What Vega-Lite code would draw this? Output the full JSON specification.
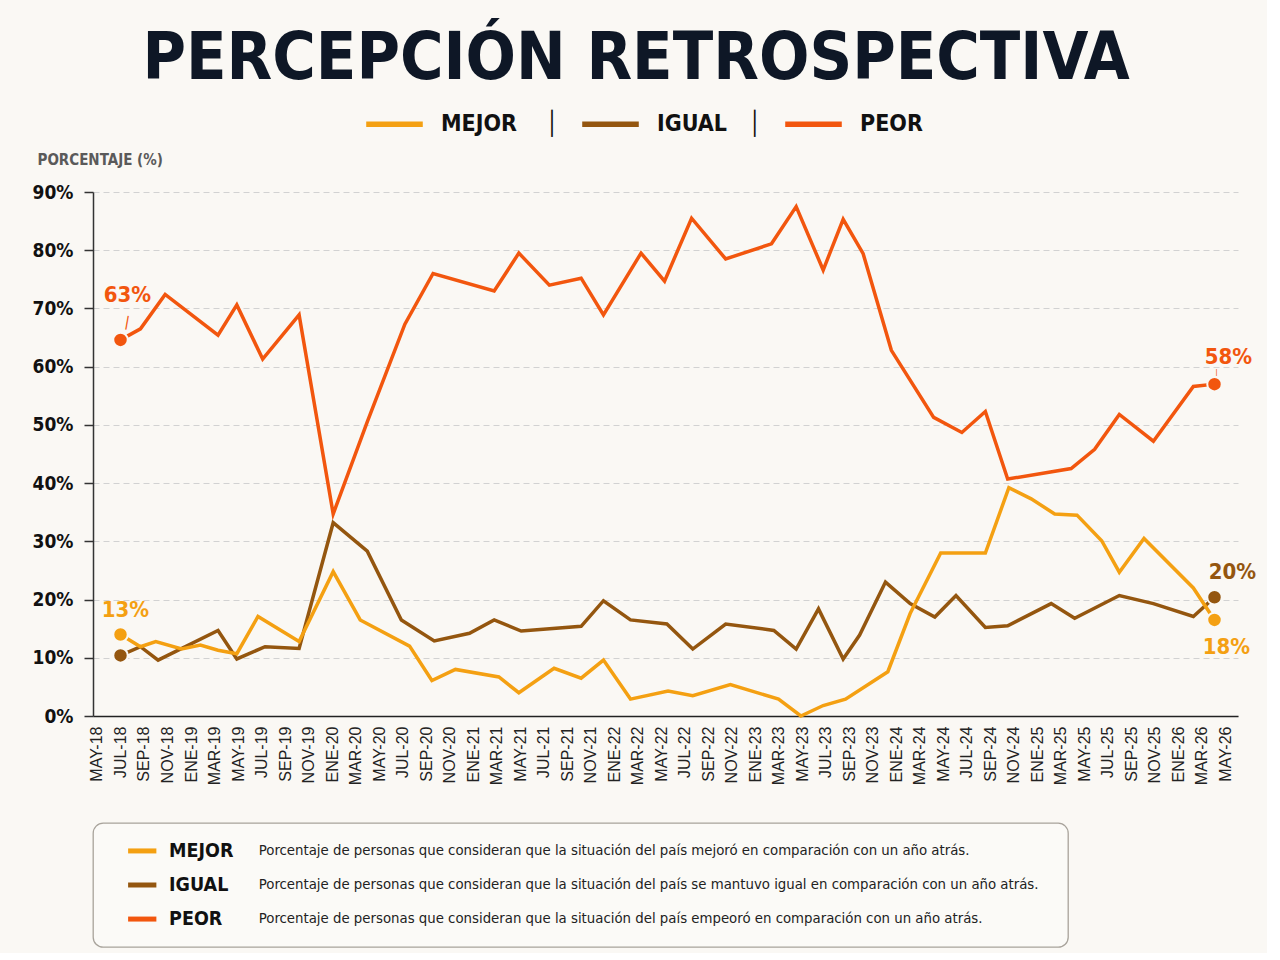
{
  "$schema": "https://vega.github.io/schema/vega-lite/v6.json",
  "background": "#FAF8F4",
  "padding": {"left": 32, "top": 25, "right": 10, "bottom": 5},
  "title": {
    "text": "PERCEPCIÓN RETROSPECTIVA",
    "font": "'DejaVu Sans Condensed', 'DejaVu Sans', sans-serif",
    "fontSize": 66,
    "fontWeight": "bold",
    "color": "#0E1726",
    "anchor": "middle",
    "dx": -8,
    "offset": 0
  },
  "bounds": "flush",
  "spacing": 107,
  "resolve": {"legend": {"color": "independent"}},
  "config": {
    "view": {"stroke": null},
    "font": "'DejaVu Sans Condensed', 'DejaVu Sans', sans-serif"
  },
  "datasets": {
    "series": [
      {"serie": "PEOR", "mes": 2.0, "valor": 64.6},
      {"serie": "PEOR", "mes": 3.7, "valor": 66.5},
      {"serie": "PEOR", "mes": 5.8, "valor": 72.4},
      {"serie": "PEOR", "mes": 10.3, "valor": 65.4},
      {"serie": "PEOR", "mes": 11.9, "valor": 70.6},
      {"serie": "PEOR", "mes": 14.1, "valor": 61.3},
      {"serie": "PEOR", "mes": 17.2, "valor": 68.9},
      {"serie": "PEOR", "mes": 20.1, "valor": 34.7},
      {"serie": "PEOR", "mes": 23.0, "valor": 50.5},
      {"serie": "PEOR", "mes": 26.2, "valor": 67.3},
      {"serie": "PEOR", "mes": 28.6, "valor": 76.0},
      {"serie": "PEOR", "mes": 33.8, "valor": 73.0},
      {"serie": "PEOR", "mes": 35.9, "valor": 79.5},
      {"serie": "PEOR", "mes": 38.5, "valor": 74.0},
      {"serie": "PEOR", "mes": 41.2, "valor": 75.2},
      {"serie": "PEOR", "mes": 43.1, "valor": 68.9},
      {"serie": "PEOR", "mes": 46.3, "valor": 79.5},
      {"serie": "PEOR", "mes": 48.3, "valor": 74.7},
      {"serie": "PEOR", "mes": 50.6, "valor": 85.5},
      {"serie": "PEOR", "mes": 53.5, "valor": 78.5},
      {"serie": "PEOR", "mes": 57.4, "valor": 81.1},
      {"serie": "PEOR", "mes": 59.5, "valor": 87.5},
      {"serie": "PEOR", "mes": 61.8, "valor": 76.6},
      {"serie": "PEOR", "mes": 63.5, "valor": 85.3},
      {"serie": "PEOR", "mes": 65.2, "valor": 79.4},
      {"serie": "PEOR", "mes": 67.6, "valor": 62.8},
      {"serie": "PEOR", "mes": 71.2, "valor": 51.3},
      {"serie": "PEOR", "mes": 73.6, "valor": 48.7},
      {"serie": "PEOR", "mes": 75.6, "valor": 52.3},
      {"serie": "PEOR", "mes": 77.5, "valor": 40.7},
      {"serie": "PEOR", "mes": 82.9, "valor": 42.5},
      {"serie": "PEOR", "mes": 84.9, "valor": 45.8},
      {"serie": "PEOR", "mes": 87.0, "valor": 51.8},
      {"serie": "PEOR", "mes": 89.9, "valor": 47.2},
      {"serie": "PEOR", "mes": 93.3, "valor": 56.6},
      {"serie": "PEOR", "mes": 95.1, "valor": 57.0},
      {"serie": "IGUAL", "mes": 2.0, "valor": 10.4},
      {"serie": "IGUAL", "mes": 3.7, "valor": 11.9},
      {"serie": "IGUAL", "mes": 5.2, "valor": 9.6},
      {"serie": "IGUAL", "mes": 10.3, "valor": 14.7},
      {"serie": "IGUAL", "mes": 11.9, "valor": 9.8},
      {"serie": "IGUAL", "mes": 14.3, "valor": 11.9},
      {"serie": "IGUAL", "mes": 17.2, "valor": 11.6},
      {"serie": "IGUAL", "mes": 20.1, "valor": 33.2},
      {"serie": "IGUAL", "mes": 23.0, "valor": 28.3},
      {"serie": "IGUAL", "mes": 25.9, "valor": 16.5},
      {"serie": "IGUAL", "mes": 28.7, "valor": 12.9},
      {"serie": "IGUAL", "mes": 31.7, "valor": 14.2},
      {"serie": "IGUAL", "mes": 33.8, "valor": 16.5},
      {"serie": "IGUAL", "mes": 36.1, "valor": 14.6},
      {"serie": "IGUAL", "mes": 41.2, "valor": 15.4},
      {"serie": "IGUAL", "mes": 43.1, "valor": 19.8},
      {"serie": "IGUAL", "mes": 45.4, "valor": 16.5},
      {"serie": "IGUAL", "mes": 48.5, "valor": 15.8},
      {"serie": "IGUAL", "mes": 50.7, "valor": 11.5},
      {"serie": "IGUAL", "mes": 53.5, "valor": 15.8},
      {"serie": "IGUAL", "mes": 57.6, "valor": 14.7},
      {"serie": "IGUAL", "mes": 59.5, "valor": 11.5},
      {"serie": "IGUAL", "mes": 61.4, "valor": 18.4},
      {"serie": "IGUAL", "mes": 63.5, "valor": 9.8},
      {"serie": "IGUAL", "mes": 64.9, "valor": 13.9},
      {"serie": "IGUAL", "mes": 67.1, "valor": 23.0},
      {"serie": "IGUAL", "mes": 69.2, "valor": 19.3},
      {"serie": "IGUAL", "mes": 71.3, "valor": 17.0},
      {"serie": "IGUAL", "mes": 73.1, "valor": 20.7},
      {"serie": "IGUAL", "mes": 75.6, "valor": 15.2},
      {"serie": "IGUAL", "mes": 77.5, "valor": 15.5},
      {"serie": "IGUAL", "mes": 81.2, "valor": 19.3},
      {"serie": "IGUAL", "mes": 83.2, "valor": 16.8},
      {"serie": "IGUAL", "mes": 87.0, "valor": 20.7},
      {"serie": "IGUAL", "mes": 89.9, "valor": 19.3},
      {"serie": "IGUAL", "mes": 93.3, "valor": 17.1},
      {"serie": "IGUAL", "mes": 95.1, "valor": 20.4},
      {"serie": "MEJOR", "mes": 2.0, "valor": 14.0},
      {"serie": "MEJOR", "mes": 3.7, "valor": 11.9},
      {"serie": "MEJOR", "mes": 5.0, "valor": 12.8},
      {"serie": "MEJOR", "mes": 7.2, "valor": 11.5},
      {"serie": "MEJOR", "mes": 8.8, "valor": 12.2},
      {"serie": "MEJOR", "mes": 10.3, "valor": 11.3},
      {"serie": "MEJOR", "mes": 11.9, "valor": 10.7},
      {"serie": "MEJOR", "mes": 13.7, "valor": 17.1},
      {"serie": "MEJOR", "mes": 17.2, "valor": 12.8},
      {"serie": "MEJOR", "mes": 20.1, "valor": 24.8},
      {"serie": "MEJOR", "mes": 22.4, "valor": 16.5},
      {"serie": "MEJOR", "mes": 26.6, "valor": 12.0},
      {"serie": "MEJOR", "mes": 28.5, "valor": 6.1},
      {"serie": "MEJOR", "mes": 30.5, "valor": 8.0},
      {"serie": "MEJOR", "mes": 34.2, "valor": 6.7},
      {"serie": "MEJOR", "mes": 35.9, "valor": 4.0},
      {"serie": "MEJOR", "mes": 38.9, "valor": 8.2},
      {"serie": "MEJOR", "mes": 41.2, "valor": 6.5},
      {"serie": "MEJOR", "mes": 43.1, "valor": 9.6},
      {"serie": "MEJOR", "mes": 45.4, "valor": 2.9},
      {"serie": "MEJOR", "mes": 48.6, "valor": 4.3},
      {"serie": "MEJOR", "mes": 50.7, "valor": 3.5},
      {"serie": "MEJOR", "mes": 53.9, "valor": 5.4},
      {"serie": "MEJOR", "mes": 58.0, "valor": 2.9},
      {"serie": "MEJOR", "mes": 59.9, "valor": 0.0},
      {"serie": "MEJOR", "mes": 61.8, "valor": 1.8},
      {"serie": "MEJOR", "mes": 63.7, "valor": 2.9},
      {"serie": "MEJOR", "mes": 67.3, "valor": 7.6},
      {"serie": "MEJOR", "mes": 69.2, "valor": 17.6},
      {"serie": "MEJOR", "mes": 71.8, "valor": 28.0},
      {"serie": "MEJOR", "mes": 75.6, "valor": 28.0},
      {"serie": "MEJOR", "mes": 77.6, "valor": 39.2},
      {"serie": "MEJOR", "mes": 79.5, "valor": 37.3},
      {"serie": "MEJOR", "mes": 81.5, "valor": 34.7},
      {"serie": "MEJOR", "mes": 83.4, "valor": 34.5},
      {"serie": "MEJOR", "mes": 85.5, "valor": 30.1},
      {"serie": "MEJOR", "mes": 87.0, "valor": 24.7},
      {"serie": "MEJOR", "mes": 89.1, "valor": 30.5},
      {"serie": "MEJOR", "mes": 93.3, "valor": 22.0},
      {"serie": "MEJOR", "mes": 95.1, "valor": 16.5}
    ],
    "extremos": [
      {"serie": "PEOR", "mes": 2.0, "valor": 64.6, "posicion": "inicio", "texto": "63%"},
      {"serie": "MEJOR", "mes": 2.0, "valor": 14.0, "posicion": "inicio", "texto": "13%"},
      {"serie": "IGUAL", "mes": 2.0, "valor": 10.4, "posicion": "inicio", "texto": ""},
      {"serie": "PEOR", "mes": 95.1, "valor": 57.0, "posicion": "fin", "texto": "58%"},
      {"serie": "IGUAL", "mes": 95.1, "valor": 20.4, "posicion": "fin", "texto": "20%"},
      {"serie": "MEJOR", "mes": 95.1, "valor": 16.5, "posicion": "fin", "texto": "18%"}
    ],
    "descripciones": [
      {"serie": "MEJOR", "descripcion": "Porcentaje de personas que consideran que la situación del país mejoró en comparación con un año atrás."},
      {"serie": "IGUAL", "descripcion": "Porcentaje de personas que consideran que la situación del país se mantuvo igual en comparación con un año atrás."},
      {"serie": "PEOR", "descripcion": "Porcentaje de personas que consideran que la situación del país empeoró en comparación con un año atrás."}
    ]
  },
  "vconcat": [
    {
      "width": 1145,
      "height": 524,
      "encoding": {
        "x": {
          "field": "mes",
          "type": "quantitative",
          "scale": {"domain": [-0.34, 97.1], "nice": false, "zero": false},
          "axis": {
            "title": null,
            "values": [0, 2, 4, 6, 8, 10, 12, 14, 16, 18, 20, 22, 24, 26, 28, 30, 32, 34, 36, 38, 40, 42, 44, 46, 48, 50, 52, 54, 56, 58, 60, 62, 64, 66, 68, 70, 72, 74, 76, 78, 80, 82, 84, 86, 88, 90, 92, 94, 96],
            "labelExpr": "['ENE','FEB','MAR','ABR','MAY','JUN','JUL','AGO','SEP','OCT','NOV','DIC'][(datum.value + 4) % 12] + '-' + (18 + floor((datum.value + 4) / 12))",
            "labelAngle": -90,
            "labelAlign": "right",
            "labelBaseline": "middle",
            "labelFont": "'Liberation Sans', Arial, sans-serif",
            "labelFontSize": 16,
            "labelColor": "#222222",
            "labelPadding": 10,
            "labelOverlap": false,
            "labelBound": false,
            "labelFlush": false,
            "ticks": false,
            "tickSize": 0,
            "grid": false,
            "domainColor": "#222222",
            "domainWidth": 1.5
          }
        },
        "y": {
          "field": "valor",
          "type": "quantitative",
          "scale": {"domain": [0, 90], "nice": false},
          "axis": {
            "title": "PORCENTAJE (%)",
            "titleAngle": 0,
            "titleAlign": "left",
            "titleBaseline": "middle",
            "titleX": -56,
            "titleY": -33,
            "titleFont": "'DejaVu Sans Condensed', sans-serif",
            "titleFontSize": 15,
            "titleFontWeight": "bold",
            "titleColor": "#5A5A5A",
            "values": [0, 10, 20, 30, 40, 50, 60, 70, 80, 90],
            "labelExpr": "datum.value + '%'",
            "labelFont": "'DejaVu Sans Condensed', sans-serif",
            "labelFontSize": 19,
            "labelFontWeight": "bold",
            "labelColor": "#111111",
            "labelPadding": 11,
            "tickSize": 9,
            "tickColor": "#333333",
            "tickWidth": 1.5,
            "domainColor": "#333333",
            "domainWidth": 1.5,
            "grid": true,
            "gridDash": [6, 4],
            "gridColor": "#D2D2D2",
            "gridWidth": 1
          }
        },
        "color": {
          "field": "serie",
          "type": "nominal",
          "scale": {"domain": ["MEJOR", "IGUAL", "PEOR"], "range": ["#F4A012", "#94560F", "#F2560E"]},
          "legend": {
            "orient": "none",
            "legendX": 270,
            "legendY": -99.5,
            "direction": "horizontal",
            "title": null,
            "symbolType": "stroke",
            "symbolSize": 3200,
            "symbolStrokeWidth": 5.5,
            "symbolOpacity": 1,
            "labelExpr": "datum.label == 'MEJOR' ? datum.label + '\u00a0\u00a0\u00a0\u00a0\u2502' : (datum.label == 'IGUAL' ? datum.label + '\u00a0\u00a0\u00a0\u2502' : datum.label)",
            "labelFont": "'DejaVu Sans Condensed', sans-serif",
            "labelFontSize": 23,
            "labelFontWeight": "bold",
            "labelColor": "#111111",
            "labelOffset": 15,
            "labelLimit": 300,
            "columnPadding": 12,
            "padding": 0
          }
        }
      },
      "layer": [
        {
          "data": {"name": "series"},
          "mark": {"type": "line", "strokeWidth": 3.5}
        },
        {
          "data": {"name": "extremos"},
          "mark": {"type": "circle", "size": 210, "opacity": 1, "stroke": "#FAF8F4", "strokeWidth": 2}
        },
        {
          "data": {"name": "extremos"},
          "transform": [{"filter": "datum.serie == 'PEOR' && datum.posicion == 'inicio'"}],
          "mark": {"type": "text", "font": "'DejaVu Sans Condensed', sans-serif", "fontSize": 22, "fontWeight": "bold", "dx": 7, "dy": -45},
          "encoding": {"text": {"field": "texto"}}
        },
        {
          "data": {"name": "extremos"},
          "transform": [{"filter": "datum.serie == 'PEOR' && datum.posicion == 'inicio'"}],
          "mark": {"type": "text", "text": "|", "font": "'Liberation Sans', sans-serif", "fontSize": 15, "angle": 10, "dx": 3.5, "dy": -19}
        },
        {
          "data": {"name": "extremos"},
          "transform": [{"filter": "datum.serie == 'MEJOR' && datum.posicion == 'inicio'"}],
          "mark": {"type": "text", "font": "'DejaVu Sans Condensed', sans-serif", "fontSize": 22, "fontWeight": "bold", "dx": 5, "dy": -24},
          "encoding": {"text": {"field": "texto"}}
        },
        {
          "data": {"name": "extremos"},
          "transform": [{"filter": "datum.serie == 'PEOR' && datum.posicion == 'fin'"}],
          "mark": {"type": "text", "font": "'DejaVu Sans Condensed', sans-serif", "fontSize": 22, "fontWeight": "bold", "dx": 14, "dy": -27},
          "encoding": {"text": {"field": "texto"}}
        },
        {
          "data": {"name": "extremos"},
          "transform": [{"filter": "datum.serie == 'PEOR' && datum.posicion == 'fin'"}],
          "mark": {"type": "text", "text": "|", "font": "'Liberation Sans', sans-serif", "fontSize": 8, "dx": 2, "dy": -12}
        },
        {
          "data": {"name": "extremos"},
          "transform": [{"filter": "datum.serie == 'IGUAL' && datum.posicion == 'fin'"}],
          "mark": {"type": "text", "font": "'DejaVu Sans Condensed', sans-serif", "fontSize": 22, "fontWeight": "bold", "dx": 18, "dy": -25},
          "encoding": {"text": {"field": "texto"}}
        },
        {
          "data": {"name": "extremos"},
          "transform": [{"filter": "datum.serie == 'MEJOR' && datum.posicion == 'fin'"}],
          "mark": {"type": "text", "font": "'DejaVu Sans Condensed', sans-serif", "fontSize": 22, "fontWeight": "bold", "dx": 12, "dy": 27},
          "encoding": {"text": {"field": "texto"}}
        }
      ]
    },
    {
      "width": 975,
      "height": 124,
      "view": {"stroke": "#A8A39B", "strokeWidth": 1.3, "cornerRadius": 10, "fill": "#FBFAF7"},
      "data": {"name": "descripciones"},
      "encoding": {
        "y": {
          "field": "serie",
          "type": "nominal",
          "scale": {"type": "point", "domain": ["MEJOR", "IGUAL", "PEOR"], "padding": 0.82},
          "axis": null
        }
      },
      "layer": [
        {
          "mark": {"type": "rule", "strokeWidth": 5},
          "encoding": {
            "x": {"datum": 3.6, "type": "quantitative", "scale": {"domain": [0, 100], "nice": false}, "axis": null},
            "x2": {"datum": 6.5},
            "color": {"field": "serie", "type": "nominal", "legend": null}
          }
        },
        {
          "mark": {"type": "text", "align": "left", "baseline": "middle", "font": "'DejaVu Sans Condensed', sans-serif", "fontSize": 19.5, "fontWeight": "bold", "color": "#111111"},
          "encoding": {
            "x": {"datum": 7.8, "type": "quantitative"},
            "text": {"field": "serie"}
          }
        },
        {
          "mark": {"type": "text", "align": "left", "baseline": "middle", "font": "'DejaVu Sans Condensed', sans-serif", "fontSize": 14.8, "color": "#222222"},
          "encoding": {
            "x": {"datum": 17.0, "type": "quantitative"},
            "text": {"field": "descripcion"}
          }
        }
      ]
    }
  ]
}
